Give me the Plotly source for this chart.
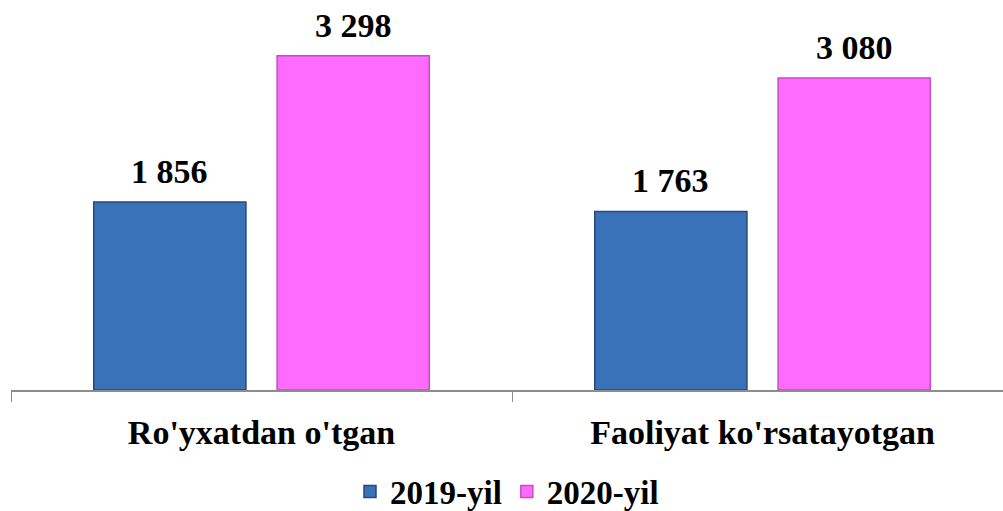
import plotly.graph_objects as go

categories = ["Ro'yxatdan o'tgan", "Faoliyat ko'rsatayotgan"]
series_names = ["2019-yil", "2020-yil"]
values_2019 = [1856, 1763]
values_2020 = [3298, 3080]
colors = ["#3A72BA", "#FF6BFF"]
line_colors = ["#24497A", "#C94AC9"]

FONT = "Liberation Serif"
BARGAP = 0.268
BARGROUPGAP = 0.17

fig = go.Figure()
all_vals = [values_2019, values_2020]
for name, vals, c, lc in zip(series_names, all_vals, colors, line_colors):
    fig.add_trace(go.Bar(
        x=categories, y=vals, name=name,
        marker=dict(color=c, line=dict(color=lc, width=1.5)),
    ))

# value labels above bars
n = len(all_vals)
slot = (1 - BARGAP) / n
for si, vals in enumerate(all_vals):
    off = -(1 - BARGAP) / 2 + slot * (si + 0.5)
    for ci, v in enumerate(vals):
        fig.add_annotation(
            x=ci + off, y=v, xref="x", yref="y",
            text=f"{v:,}".replace(",", " "),
            showarrow=False, yanchor="bottom", yshift=10,
            font=dict(family=FONT, size=34, color="black", weight="bold"),
        )

fig.update_layout(
    width=1003, height=511,
    margin=dict(l=11, r=0, t=20, b=121, autoexpand=False),
    paper_bgcolor="white", plot_bgcolor="white",
    barmode="group", bargap=BARGAP, bargroupgap=BARGROUPGAP,
    font=dict(family=FONT, color="black"),
    showlegend=True,
    legend=dict(
        orientation="h", x=0.5, xanchor="center",
        y=0.038, yref="container", yanchor="middle",
        font=dict(family=FONT, size=33, color="black", weight="bold"),
        itemwidth=30, traceorder="normal",
    ),
    xaxis=dict(
        range=[-0.5, 1.48], automargin=False,
        showline=True, linecolor="#8C8C8C", linewidth=1.5,
        ticks="outside", tickson="boundaries", ticklen=10, tickcolor="#8C8C8C",
        tickwidth=1.2,
        tickfont=dict(family=FONT, size=34, color="black", weight="bold"),
        ticklabelstandoff=11,
        showgrid=False, zeroline=False, fixedrange=True,
    ),
    yaxis=dict(range=[0, 3652], visible=False, showgrid=False, zeroline=False,
               automargin=False, fixedrange=True),
)

fig.write_html(
    "out.html",
    config={"displayModeBar": False},
    post_script="document.body.style.margin='0';document.body.style.overflow='hidden';",
)
